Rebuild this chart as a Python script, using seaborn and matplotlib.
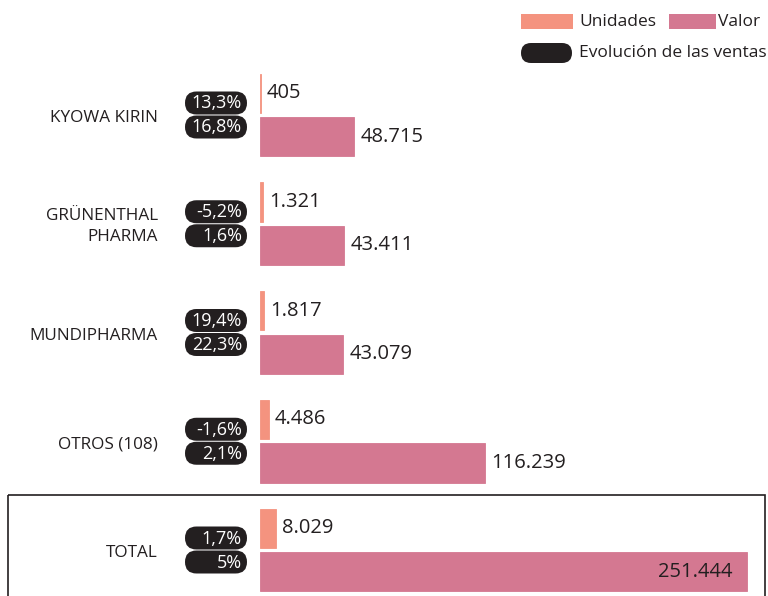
import matplotlib
matplotlib.use("Agg")
import matplotlib.pyplot as plt
from matplotlib.patches import FancyBboxPatch, Rectangle
import seaborn as sns
import pandas as pd

categories = ["KYOWA KIRIN", "GRÜNENTHAL\nPHARMA", "MUNDIPHARMA", "OTROS (108)", "TOTAL"]
unidades = [405, 1321, 1817, 4486, 8029]
valor = [48715, 43411, 43079, 116239, 251444]
evol_unidades = [13.3, -5.2, 19.4, -1.6, 1.7]
evol_valor = [16.8, 1.6, 22.3, 2.1, 5.0]
series = ["Unidades", "Valor"]
colors = ["#F4937F", "#D47891"]
dark = "#231F20"

sns.set_theme(style="white")
plt.rcParams["font.family"] = ["Open Sans", "DejaVu Sans"]

df = pd.DataFrame({
    "cat": categories * 2,
    "serie": [series[0]] * len(categories) + [series[1]] * len(categories),
    "val": unidades + valor,
})

W, H = 768, 596
fig = plt.figure(figsize=(W / 100, H / 100), dpi=100)
x0 = 260
ax = fig.add_axes([x0 / W, 0, (W - x0) / W, 1])
sns.barplot(data=df, y="cat", x="val", hue="serie", order=categories,
            hue_order=series, palette=colors, orient="h", width=0.8, gap=0.1,
            ax=ax, legend=False, saturation=1, linewidth=0)
for cont in ax.containers:
    for bar in cont:
        bar.set_edgecolor(bar.get_facecolor())
        bar.set_linewidth(0.6)
scale = 486.7 / 251444  # px per unit
ax.set_xlim(0, (W - x0) / scale)
pitch = 108.75
c0 = 115
ax.set_ylim((H - c0) / pitch, -c0 / pitch)
ax.axis("off")

# overlay in pixel coordinates
ov = fig.add_axes([0, 0, 1, 1], zorder=5)
ov.set_xlim(0, W)
ov.set_ylim(H, 0)
ov.axis("off")
ov.patch.set_alpha(0)

def cy(i):
    disp = ax.transData.transform((0, i))
    return H - disp[1]

def fmt_num(v):
    return f"{v:,}".replace(",", ".")

def fmt_pct(p):
    s = f"{p:.0f}" if float(p).is_integer() else f"{p:.1f}"
    return s.replace(".", ",") + "%"

# value labels
for k, cont in enumerate(ax.containers):
    vals = unidades if k == 0 else valor
    labels = [fmt_num(v) for v in vals]
    if k == 1:
        labels[-1] = ""
    ax.bar_label(cont, labels=labels, padding=4.5, fontsize=14.5, color=dark)
# total valor inside bar
last = ax.containers[1][-1]
ax.annotate(fmt_num(valor[-1]), (last.get_width(), last.get_y() + last.get_height() / 2),
            xytext=(-10, 0), textcoords="offset points",
            ha="right", va="center", fontsize=14.5, color=dark)

# pills and category labels
pill_l, pill_r, pill_h = 185, 247, 23
r = pill_h / 2
for i, cat in enumerate(categories):
    c = cy(i)
    ov.text(158, c + 3, cat, ha="right", va="center", fontsize=12.3, color=dark,
            linespacing=1.4)
    for j, p in enumerate([evol_unidades[i], evol_valor[i]]):
        yc = c - 12 if j == 0 else c + 12
        box = FancyBboxPatch((pill_l + r, yc), pill_r - pill_l - 2 * r, 0,
                             boxstyle=f"round,pad={r}", fc=dark, ec="none")
        ov.add_patch(box)
        ov.text(242, yc + 0.5, fmt_pct(p), ha="right", va="center", fontsize=13,
                color="white")

# legend
ov.add_patch(Rectangle((521, 14), 52, 15, fc=colors[0], ec="none"))
ov.text(579, 22, series[0], ha="left", va="center", fontsize=12.5, color=dark)
ov.add_patch(Rectangle((669, 14), 47, 15, fc=colors[1], ec="none"))
ov.text(718, 22, series[1], ha="left", va="center", fontsize=12.5, color=dark)
ov.add_patch(FancyBboxPatch((531, 53), 31, 0, boxstyle="round,pad=10", fc=dark, ec="none"))
ov.text(579, 53, "Evolución de las ventas", ha="left", va="center", fontsize=12.5, color=dark)

# total frame
ov.add_patch(Rectangle((8, 495), 757, 110, fill=False, ec=dark, lw=1.2, clip_on=False))

fig.savefig("out.png", dpi=100)
